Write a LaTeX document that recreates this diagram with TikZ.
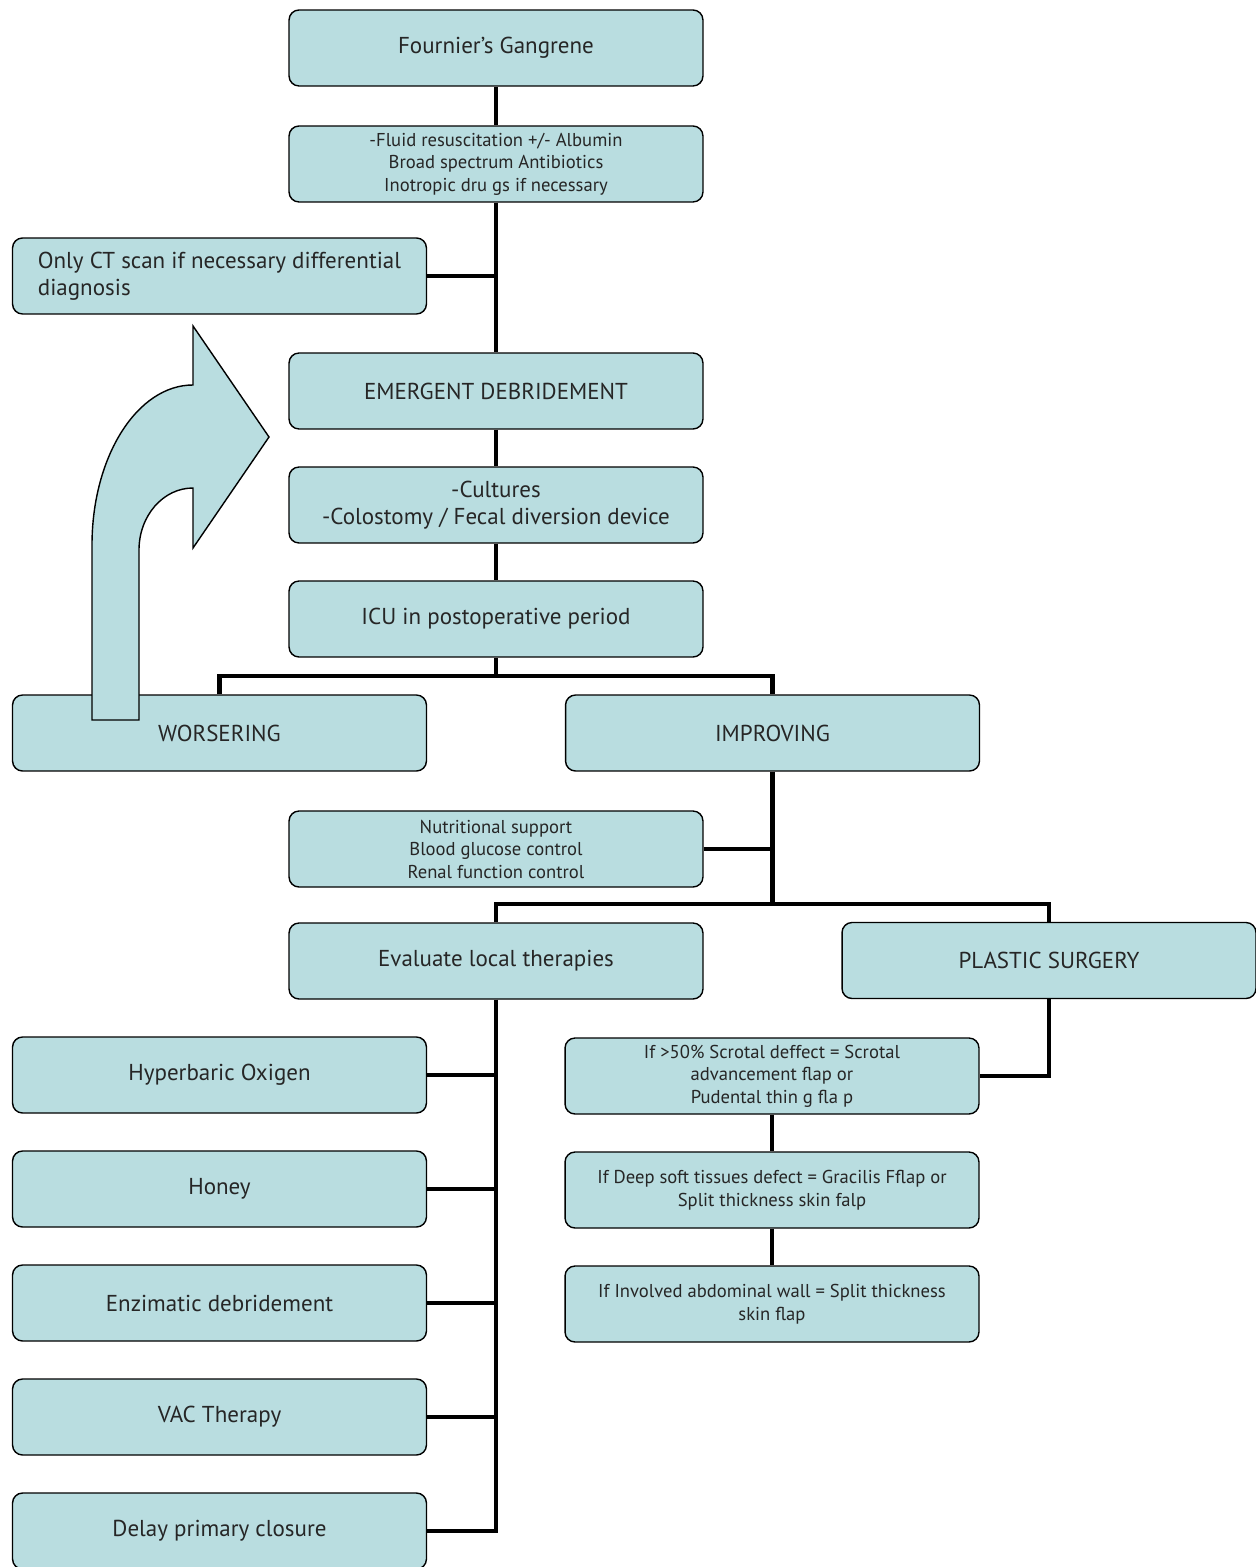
\documentclass[tikz,border=0pt]{standalone}
\usepackage{fontspec}
\setmainfont{PT Sans}
\usetikzlibrary{arrows}
\definecolor{boxfill}{RGB}{185,221,224}

\begin{document}
\begin{tikzpicture}[x=0.02cm,y=0.02cm,
    box/.style={draw,line width=0.8pt,fill=boxfill,rounded corners=0.2cm,
        minimum width=8.28cm,minimum height=1.52cm,text=black!85,
        font=\fontsize{13.1}{15.4}\selectfont,align=center},
    smallbox/.style={box,font=\fontsize{10.6}{12.8}\selectfont},
    link/.style={line width=2.3pt}]
        \useasboundingbox (0,0) rectangle (1256,-1567);

        % Main column
        \node [box] (fg) at (496,-48) {Fournier’s Gangrene};
        \node [smallbox] (fluid) at (496,-164)
            {-Fluid resuscitation +/- Albumin\\Broad spectrum Antibiotics\\Inotropic dru gs if necessary};
        \node [box,align=left] (ct) at (219.5,-276)
            {Only CT scan if necessary differential\\diagnosis};
        \node [box] (emerg) at (496,-391) {EMERGENT DEBRIDEMENT};
        \node [box] (cult) at (496,-505) {-Cultures\\-Colostomy / Fecal diversion device};
        \node [box] (icu) at (496,-619) {ICU in postoperative period};

        % Outcome
        \node [box] (wors) at (219.5,-733) {WORSERING};
        \node [box] (impr) at (772.5,-733) {IMPROVING};
        \node [smallbox] (nutri) at (496,-849)
            {Nutritional support\\Blood glucose control\\Renal function control};
        \node [box] (eval) at (496,-961) {Evaluate local therapies};
        \node [box] (plastic) at (1049,-960.5) {PLASTIC SURGERY};

        % Local therapies
        \node [box] (hyper) at (219.5,-1075) {Hyperbaric Oxigen};
        \node [box] (honey) at (219.5,-1189) {Honey};
        \node [box] (enz) at (219.5,-1303) {Enzimatic debridement};
        \node [box] (vac) at (219.5,-1417) {VAC Therapy};
        \node [box] (delay) at (219.5,-1531) {Delay primary closure};

        % Plastic surgery options
        \node [smallbox] (scrot) at (772,-1076)
            {If >50\% Scrotal deffect = Scrotal\\advancement flap or\\Pudental thin g fla p};
        \node [smallbox] (deep) at (772,-1190)
            {If Deep soft tissues defect = Gracilis Fflap or\\Split thickness skin falp};
        \node [smallbox] (abdom) at (772,-1304)
            {If Involved abdominal wall = Split thickness\\skin flap};

        \coordinate (split1) at (496,-676);
        \coordinate (split2) at (772.5,-904);

        % Connectors
        \draw [link] (fg.south) -- (fluid.north);
        \draw [link] (fluid.south) -- (emerg.north);
        \draw [link] (ct.east) -- (ct.east -| fluid.south);
        \draw [link] (emerg.south) -- (cult.north);
        \draw [link] (cult.south) -- (icu.north);
        \draw [link] (icu.south) -- (split1);
        \draw [link] (wors.north) |- (split1) -| (impr.north);
        \draw [link] (impr.south) -- (split2);
        \draw [link] (nutri.east) -- (nutri.east -| impr.south);
        \draw [link] (eval.north) |- (split2) -| (plastic.north);
        \draw [link] (eval.south) |- (delay.east);
        \draw [link] (hyper.east) -- (hyper.east -| eval.south);
        \draw [link] (honey.east) -- (honey.east -| eval.south);
        \draw [link] (enz.east) -- (enz.east -| eval.south);
        \draw [link] (vac.east) -- (vac.east -| eval.south);
        \draw [link] (plastic.south) |- (scrot.east);
        \draw [link] (scrot.south) -- (deep.north);
        \draw [link] (deep.south) -- (abdom.north);

        % Curved arrow back to debridement
        \draw [line width=0.8pt,fill=boxfill] (92,-720) -- (92,-545)
            arc [start angle=180,end angle=90,x radius=101,y radius=160]
            -- (193,-326) -- (269,-437) -- (193,-548) -- (193,-488)
            arc [start angle=90,end angle=180,x radius=54,y radius=62]
            -- (139,-720) -- cycle;
    \end{tikzpicture}
\end{document}
